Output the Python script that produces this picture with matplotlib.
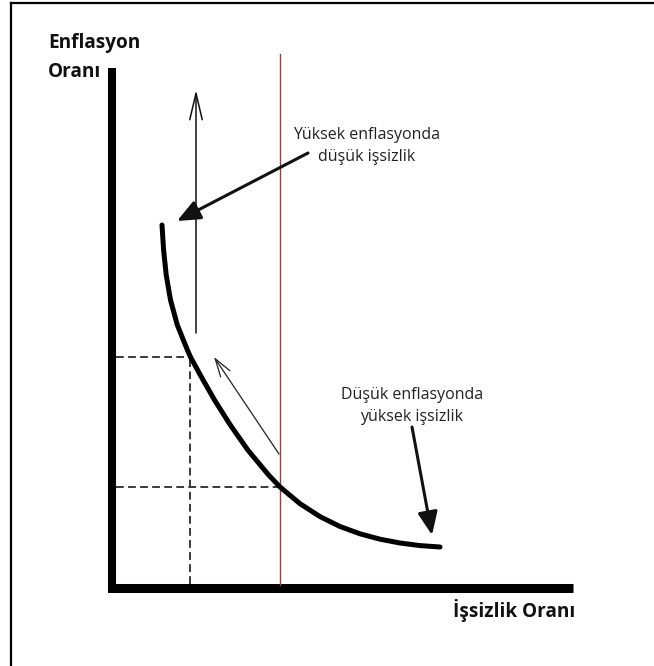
import matplotlib
matplotlib.use("Agg")
import matplotlib.pyplot as plt
from matplotlib.lines import Line2D

# ---- data (chart units: unemployment x, inflation y) ----
curve_x = [5.0, 5.16, 5.42, 5.85, 6.53, 7.54, 7.85, 8.83, 10.25, 11.83, 13.58, 15.66, 16.8,
           18.8, 20.8, 22.8, 24.8, 26.8, 28.8, 30.8, 32.8]
curve_y = [36.3, 33.8, 31.3, 28.8, 26.3, 23.8, 23.1, 21.3, 18.8, 16.3, 13.8, 11.3, 10.1,
           8.43, 7.14, 6.15, 5.42, 4.88, 4.5, 4.24, 4.1]

natural_rate_x = 16.8          # red vertical line
low_u, high_inf = 7.85, 23.1   # first dashed point
nat_inf = 10.1                 # second dashed level
axis_y_top = 52.0
axis_x_right = 46.1
red_top = 53.4

up_arrow = [(8.4, 25.5), (8.4, 49.8)]
diag_arrow = [(16.7, 13.4), (10.2, 23.1)]
ann_high = [(19.6, 43.5), (6.5, 36.7)]
ann_low = [(30.0, 16.1), (32.0, 5.3)]

label_y = ["Enflasyon", "Oranı"]
label_x = "İşsizlik Oranı"
text_high = "Yüksek enflasyonda\ndüşük işsizlik"
text_low = "Düşük enflasyonda\nyüksek işsizlik"

# ---- figure ----
fig = plt.figure(figsize=(6.54, 6.66), dpi=100)
ax = fig.add_axes([0, 0, 1, 1])
ax.set_xlim(-11.2, 54.2)
ax.set_ylim(-7.8, 58.8)
ax.axis("off")

# frame lines (left and top only)
fig.add_artist(Line2D([11/654, 11/654], [0, 1 - 3/666], color="black", lw=1.6, transform=fig.transFigure))
fig.add_artist(Line2D([11/654, 1], [1 - 3/666, 1 - 3/666], color="black", lw=1.6, transform=fig.transFigure))

# axes bars
ax.plot([0, 0], [-0.45, axis_y_top], color="black", lw=5.8, solid_capstyle="butt")
ax.plot([-0.4, axis_x_right], [0, 0], color="black", lw=6.5, solid_capstyle="butt")

# red vertical line
ax.plot([natural_rate_x, natural_rate_x], [0.3, red_top], color="#9c3f3a", lw=1.0)

# dashed guides
dash = dict(color="#3a3a3a", lw=1.4, dashes=(4, 2.2))
ax.plot([0.4, low_u], [high_inf, high_inf], **dash)
ax.plot([low_u, low_u], [0.4, high_inf], **dash)
ax.plot([0.4, natural_rate_x], [nat_inf, nat_inf], **dash)

# Phillips curve
ax.plot(curve_x, curve_y, color="black", lw=3.6, solid_capstyle="round", solid_joinstyle="round")

# thin arrows
ax.annotate("", xy=up_arrow[1], xytext=up_arrow[0],
            arrowprops=dict(arrowstyle="->,head_length=1.9,head_width=0.45", color="#111111", lw=1.1,
                            shrinkA=0, shrinkB=0))
ax.annotate("", xy=diag_arrow[1], xytext=diag_arrow[0],
            arrowprops=dict(arrowstyle="->,head_length=1.3,head_width=0.4", color="#222222", lw=0.9,
                            shrinkA=0, shrinkB=0))

# thick annotation arrows
ax.annotate("", xy=ann_high[1], xytext=ann_high[0],
            arrowprops=dict(arrowstyle="-|>,head_length=1.4,head_width=0.6", color="#111111", lw=2.2,
                            shrinkA=0, shrinkB=0))
ax.annotate("", xy=ann_low[1], xytext=ann_low[0],
            arrowprops=dict(arrowstyle="-|>,head_length=1.4,head_width=0.6", color="#111111", lw=2.2,
                            shrinkA=0, shrinkB=0))

# texts
ax.text(25.5, 44.2, text_high, ha="center", va="center", fontsize=11.5,
        family="Open Sans", color="#222222", linespacing=1.55)
ax.text(30.0, 18.2, text_low, ha="center", va="center", fontsize=11.5,
        family="Open Sans", color="#222222", linespacing=1.55)

ax.text(-6.4, 54.5, label_y[0], ha="left", va="center", fontsize=13.7,
        family="Open Sans", weight="bold", color="#111111")
ax.text(-6.4, 51.6, label_y[1], ha="left", va="center", fontsize=13.7,
        family="Open Sans", weight="bold", color="#111111")
ax.text(46.3, -2.2, label_x, ha="right", va="center", fontsize=13.7,
        family="Open Sans", weight="bold", color="#111111")

fig.savefig("out.png", dpi=100)
